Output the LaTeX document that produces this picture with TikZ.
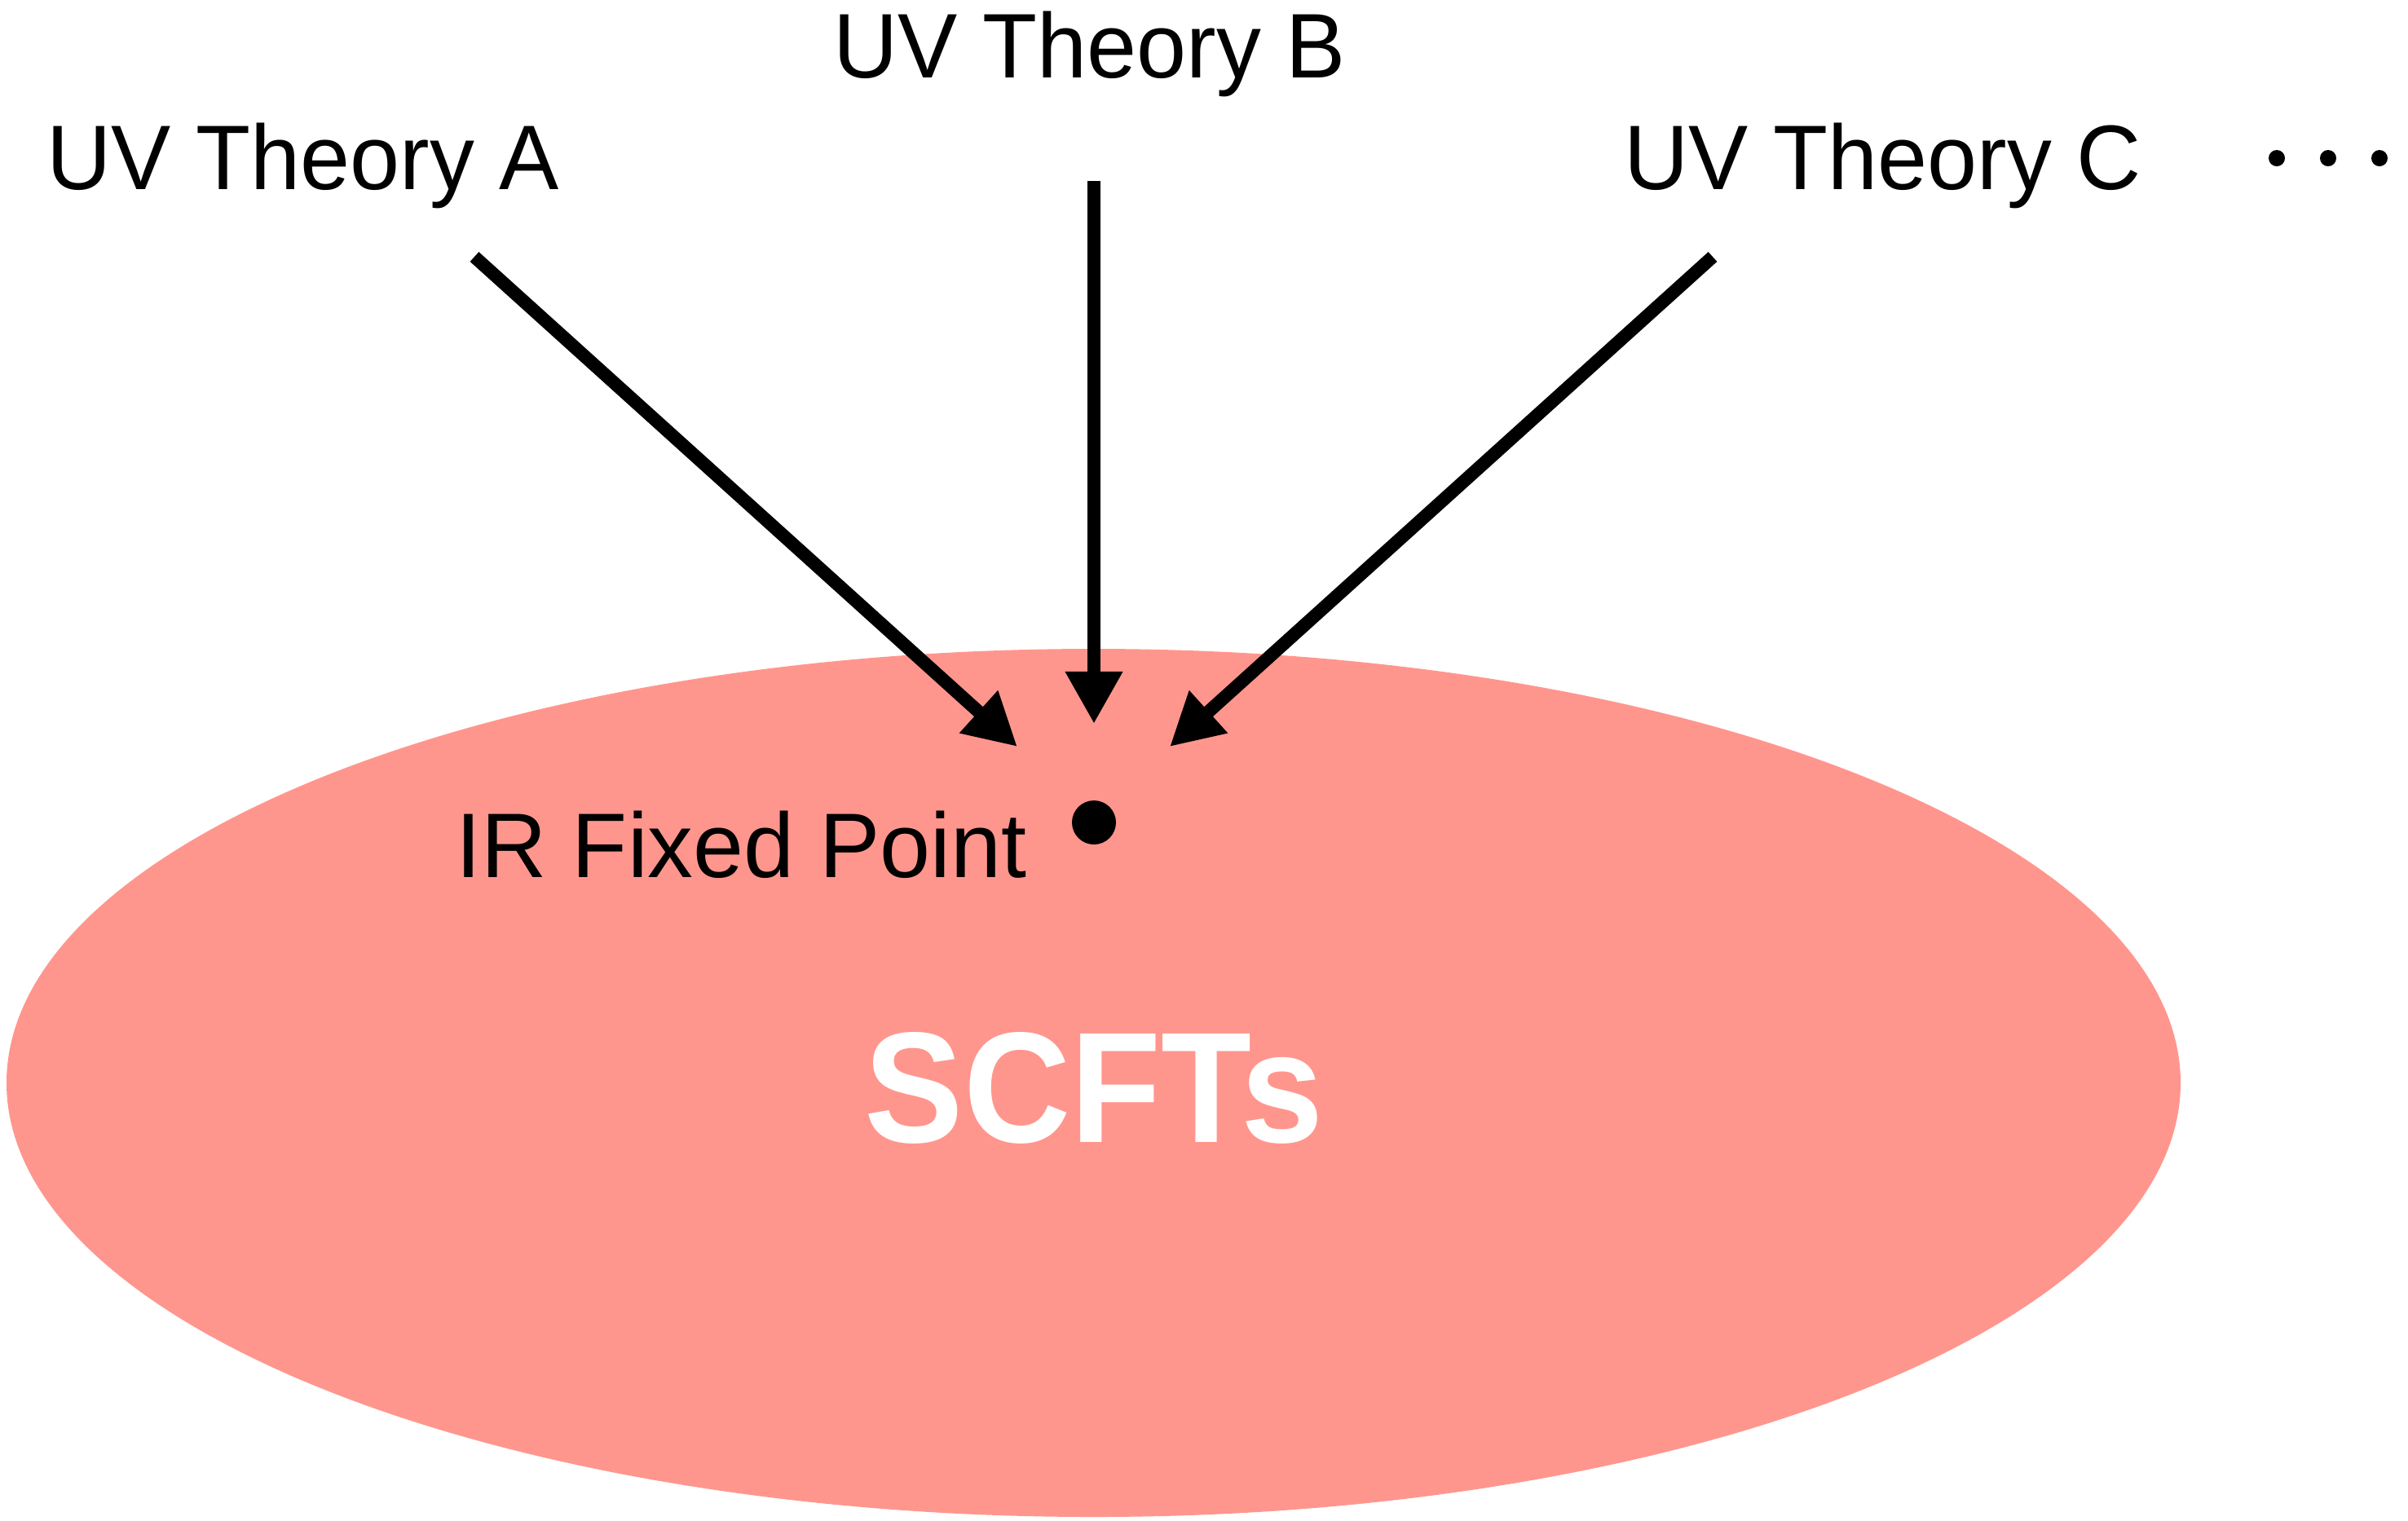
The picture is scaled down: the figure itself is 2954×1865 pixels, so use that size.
\documentclass[tikz,border=0pt]{standalone}
\usepackage{fontspec}
\setmainfont{Liberation Sans}
\usetikzlibrary{arrows.meta}
\definecolor{scftpink}{RGB}{255,150,141}
\tikzset{
  label text/.style={inner sep=0pt, anchor=base west, font=\fontsize{32}{38}\selectfont},
  flow/.style={line width=0.16cm, -{Triangle[length=0.64cm, width=0.66cm]}},
}
\begin{document}
\begin{tikzpicture}[x=0.01cm, y=-0.01cm]
  \useasboundingbox (0,0) rectangle (2954,1865);
  % the region of superconformal theories
  \fill[scftpink] (1341.5,1328.5) ellipse [x radius=1333.5, y radius=532.5];
  \node[inner sep=0pt, anchor=base, text=white,
        font=\fontsize{55}{66}\selectfont\bfseries] (scft) at (1342,1401)
        {\scalebox{0.94}[1]{SCFTs}};

  % fixed point and its label
  \fill (1342,1009) circle [radius=27];
  \node[label text] (ir) at (559,1076) {\scalebox{0.99}[1]{IR Fixed Point}};

  % UV theories
  \node[label text] (uva) at (57,232) {\scalebox{0.975}[1]{UV Theory A}};
  \node[label text] (uvb) at (1022,95) {\scalebox{0.975}[1]{UV Theory B}};
  \node[label text] (uvc) at (1992,232) {\scalebox{0.975}[1]{UV Theory C}};
  \foreach \px in {2793,2856,2919} \fill (\px,194) circle [radius=10];

  % flows towards the fixed point
  \coordinate (a0) at (582,315);   \coordinate (a1) at (1248,916);
  \coordinate (b0) at (1342,222);  \coordinate (b1) at (1342,888);
  \coordinate (c0) at (2101,315);  \coordinate (c1) at (1435,916);
  \draw[flow] (a0) -- (a1);
  \draw[flow] (b0) -- (b1);
  \draw[flow] (c0) -- (c1);
\end{tikzpicture}
\end{document}
